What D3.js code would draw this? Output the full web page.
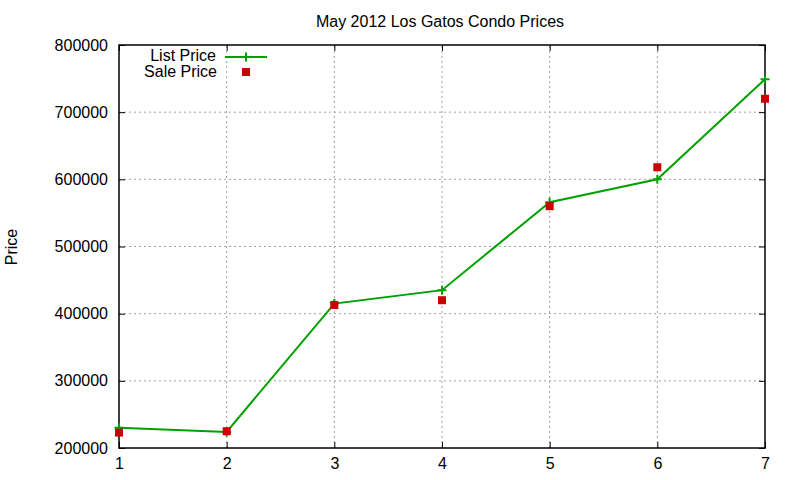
<!DOCTYPE html>
<html>
<head>
<meta charset="utf-8">
<script src="https://cdn.jsdelivr.net/npm/d3@7"></script>
<style>
  body { margin: 0; background: #fff; }
  svg text { font-family: "Liberation Sans", Arial, sans-serif; font-size: 16px; fill: #000; }
  .grid line { stroke: #a0a0a0; stroke-dasharray: 2,3; }
</style>
</head>
<body>
<svg id="chart" width="800" height="480"></svg>
<script>
// chart data
const months = [1, 2, 3, 4, 5, 6, 7]
const listPrice = [230000, 224000, 415000, 435000, 566000, 600000, 749000]
const salePrice = [223000, 225000, 413000, 420000, 560000, 618000, 720000]
const yTicks = [200000, 300000, 400000, 500000, 600000, 700000, 800000]
const seriesNames = ["List Price", "Sale Price"]

const svg = d3.select("#chart")
const plotL = 119, plotR = 765, plotT = 45, plotB = 448

// scales
const xScale = d3.scaleLinear().domain([1, 7]).range([plotL, plotR])
const yScale = d3.scaleLinear().domain([200000, 800000]).range([plotB, plotT])

// grid lines
svg.append("g").attr("class", "grid")
    .selectAll("line").data(months.slice(1, -1)).join("line")
    .attr("x1", d => xScale(d)).attr("x2", d => xScale(d))
    .attr("y1", plotB).attr("y2", plotT)
svg.append("g").attr("class", "grid")
    .selectAll("line").data(yTicks.slice(1, -1)).join("line")
    .attr("x1", plotL).attr("x2", plotR)
    .attr("y1", d => yScale(d)).attr("y2", d => yScale(d))

// axes with inward ticks, mirrored
const styleAxis = g => {
    g.select(".domain").remove()
    g.selectAll(".tick line").attr("stroke", "#000")
    g.selectAll(".tick text").attr("font-size", 16).attr("font-family", "Liberation Sans, Arial, sans-serif")
}
svg.append("g").attr("transform", `translate(0,${plotB})`)
    .call(d3.axisBottom(xScale).tickValues(months).tickFormat(d3.format("d")).tickSizeInner(-6).tickPadding(10))
    .call(styleAxis)
svg.append("g").attr("transform", `translate(0,${plotT})`)
    .call(d3.axisTop(xScale).tickValues(months).tickFormat("").tickSizeInner(-6))
    .call(styleAxis)
svg.append("g").attr("transform", `translate(${plotL},0)`)
    .call(d3.axisLeft(yScale).tickValues(yTicks).tickFormat(d3.format("d")).tickSizeInner(-6).tickPadding(11))
    .call(styleAxis)
svg.append("g").attr("transform", `translate(${plotR},0)`)
    .call(d3.axisRight(yScale).tickValues(yTicks).tickFormat("").tickSizeInner(-6))
    .call(styleAxis)
svg.selectAll(".tick text").attr("fill", "#000")

// border
svg.append("rect")
    .attr("x", plotL).attr("y", plotT)
    .attr("width", plotR - plotL).attr("height", plotB - plotT)
    .attr("fill", "none").attr("stroke", "#000").attr("stroke-width", 1.5)

// list price line
const line = d3.line().x((d, i) => xScale(months[i])).y(d => yScale(d))
svg.append("path").datum(listPrice)
    .attr("d", line)
    .attr("fill", "none").attr("stroke", "#00a000").attr("stroke-width", 2)
svg.append("g").selectAll("path").data(listPrice).join("path")
    .attr("transform", (d, i) => `translate(${xScale(months[i])},${yScale(d)})`)
    .attr("d", "M-4.5,0H4.5M0,-4.5V4.5")
    .attr("stroke", "#00a000").attr("stroke-width", 2)

// sale price points
svg.append("g").selectAll("rect").data(salePrice).join("rect")
    .attr("x", (d, i) => xScale(months[i]) - 4)
    .attr("y", d => yScale(d) - 4)
    .attr("width", 8).attr("height", 8)
    .attr("fill", "#cc0000")

// legend
const legend = svg.append("g")
legend.append("text").attr("x", 216).attr("y", 61).attr("text-anchor", "end").text(seriesNames[0])
legend.append("line").attr("x1", 225).attr("x2", 267).attr("y1", 57).attr("y2", 57)
    .attr("stroke", "#00a000").attr("stroke-width", 2)
legend.append("path").attr("transform", "translate(246,57)")
    .attr("d", "M-4.5,0H4.5M0,-4.5V4.5")
    .attr("stroke", "#00a000").attr("stroke-width", 2)
legend.append("text").attr("x", 217).attr("y", 77).attr("text-anchor", "end").text(seriesNames[1])
legend.append("rect").attr("x", 242).attr("y", 68).attr("width", 8).attr("height", 8).attr("fill", "#cc0000")

// title and y label
svg.append("text").attr("x", 440).attr("y", 27).attr("text-anchor", "middle")
    .text("May 2012 Los Gatos Condo Prices")
svg.append("text")
    .attr("transform", "translate(17,247) rotate(-90)")
    .attr("text-anchor", "middle")
    .text("Price")
</script>
</body>
</html>
